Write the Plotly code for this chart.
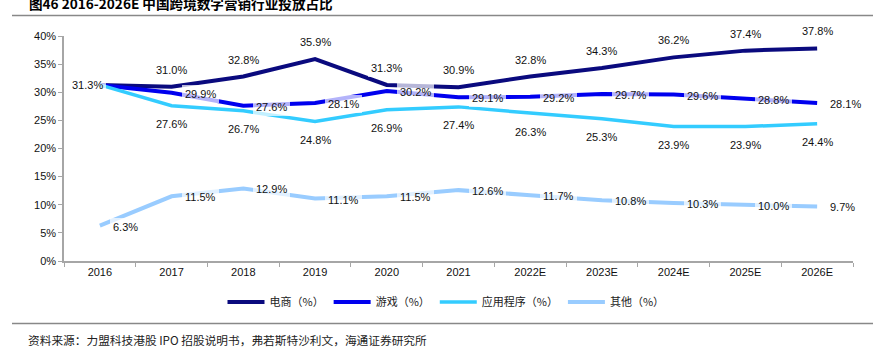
import plotly.graph_objects as go

# ---- data ----
years = ["2016", "2017", "2018", "2019", "2020", "2021", "2022E", "2023E", "2024E", "2025E", "2026E"]
ecommerce = [31.3, 31.0, 32.8, 35.9, 31.3, 30.9, 32.8, 34.3, 36.2, 37.4, 37.8]
games = [31.3, 29.9, 27.6, 28.1, 30.2, 29.1, 29.2, 29.7, 29.6, 28.8, 28.1]
apps = [31.3, 27.6, 26.7, 24.8, 26.9, 27.4, 26.3, 25.3, 23.9, 23.9, 24.4]
others = [6.3, 11.5, 12.9, 11.1, 11.5, 12.6, 11.7, 10.8, 10.3, 10.0, 9.7]
series_names = ["电商（%）", "游戏（%）", "应用程序（%）", "其他（%）"]
y_ticks = [0, 5, 10, 15, 20, 25, 30, 35, 40]
title_text = "图46 2016-2026E 中国跨境数字营销行业投放占比"
source_text = "资料来源：力盟科技港股 IPO 招股说明书，弗若斯特沙利文，海通证券研究所"

# ---- style ----
W, H = 873, 348
L, R, T, B = 64, 20, 36, 87
PW, PH = W - L - R, H - T - B
LAT = "Liberation Sans, Arial, sans-serif"
CJK = "Noto Sans CJK SC, sans-serif"
colors = ["#0A0A7E", "#0000EE", "#33CCFF", "#99CCFF"]
widths = [4, 4, 3.5, 4]
placements = ["above", "right", "below", "right"]


def ypap(py):
    return (T + PH - py) / PH


def xpap(px):
    return (px - L) / PW


fig = go.Figure()
all_series = [ecommerce, games, apps, others]
for name, vals, c, w in zip(series_names, all_series, colors, widths):
    fig.add_trace(go.Scatter(x=years, y=vals, mode="lines", name=name,
                             line=dict(color=c, width=w), hoverinfo="skip"))

annotations = []
pad = 3
for s_idx, (vals, place) in enumerate(zip(all_series, placements)):
    for i, v in enumerate(vals):
        if i == 0 and s_idx in (1, 2):
            continue
        a = dict(x=i, y=v, xref="x", yref="y", text=f"{v:.1f}%",
                 showarrow=False, font=dict(family=LAT, size=11, color="#111"),
                 bgcolor="rgba(255,255,255,0.7)", borderpad=pad, borderwidth=0)
        if s_idx == 0 and i == 0:
            a.update(xanchor="center", yanchor="middle", xshift=-12, yshift=0)
        elif place == "above":
            a.update(xanchor="center", yanchor="middle", yshift=17)
        elif place == "below":
            a.update(xanchor="center", yanchor="middle", yshift=-18.5)
        else:
            a.update(xanchor="left", yanchor="middle", xshift=13 - pad, yshift=-1)
        annotations.append(a)

annotations.append(dict(x=xpap(27), y=ypap(3), xref="paper", yref="paper", text=f"<b>{title_text}</b>",
                        showarrow=False, xanchor="left", yanchor="middle",
                        font=dict(family=CJK, size=13.6, color="#000")))
annotations.append(dict(x=xpap(26), y=ypap(339), xref="paper", yref="paper", text=source_text,
                        showarrow=False, xanchor="left", yanchor="middle",
                        font=dict(family=CJK, size=11.7, color="#222")))

shapes = [
    dict(type="line", xref="paper", yref="paper", x0=xpap(12), x1=xpap(873), y0=ypap(15.5), y1=ypap(15.5),
         line=dict(color="#888888", width=1.5)),
    dict(type="line", xref="paper", yref="paper", x0=xpap(12), x1=xpap(873), y0=ypap(323.5), y1=ypap(323.5),
         line=dict(color="#888888", width=1.5)),
]

fig.update_layout(
    width=W, height=H,
    margin=dict(l=L, r=R, t=T, b=B),
    paper_bgcolor="white", plot_bgcolor="white",
    showlegend=True,
    legend=dict(orientation="h", x=xpap(446), xanchor="center", y=ypap(302), yanchor="middle",
                font=dict(family=CJK, size=11, color="#222"), itemwidth=37,
                bgcolor="rgba(0,0,0,0)"),
    annotations=annotations,
    shapes=shapes,
    xaxis=dict(type="category", categoryorder="array", categoryarray=years,
               range=[-0.5, len(years) - 0.5], tickson="boundaries", ticks="outside", ticklen=4,
               tickcolor="#A6A6A6", showline=True, linecolor="#A6A6A6", linewidth=1.5,
               showgrid=False, zeroline=False, tickangle=0,
               tickfont=dict(family=LAT, size=11, color="#111")),
    yaxis=dict(range=[0, 40], tickvals=y_ticks, ticktext=[f"{t}%" for t in y_ticks],
               ticks="outside", ticklen=4, tickcolor="#A6A6A6", showline=True,
               linecolor="#A6A6A6", linewidth=1.5, showgrid=False, zeroline=False,
               tickfont=dict(family=LAT, size=11, color="#111")),
)

fig.write_html("out.html")
